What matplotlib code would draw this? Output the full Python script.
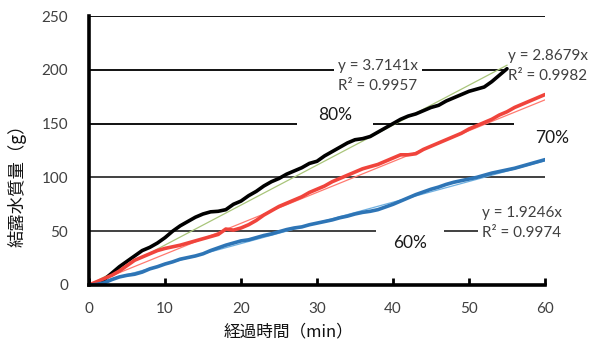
import matplotlib
matplotlib.use("Agg")
import matplotlib.pyplot as plt
import numpy as np

plt.rcParams['font.family'] = ['Lato', 'Noto Sans CJK JP', 'DejaVu Sans']

# elapsed time (min) and condensed water mass (g) for each humidity condition
minutes_80 = list(range(0, 56))
mass_80 = [0, 0, 5, 11, 17, 22, 27, 32, 35, 39, 44, 50, 55, 59, 63, 66, 68, 68.5, 70, 75,
           78, 83, 87, 92, 96, 99, 103, 106, 109, 113, 115, 120, 124, 128, 132, 135, 136,
           138, 142, 146, 150, 154, 157, 159, 162, 165, 167, 171, 174, 177, 180, 182, 184,
           189, 195, 201]

minutes_70 = list(range(0, 61))
mass_70 = [0, 3, 6, 9, 13, 18, 23, 26, 29, 32, 34, 35.5, 37, 39, 41, 43, 45, 47, 52, 51,
           53, 56, 60, 65, 69, 73, 76, 79, 82, 86, 89, 92, 96, 99, 102, 105, 108, 110, 112,
           115, 118, 121, 121, 122, 126, 129, 132, 135, 138, 141, 145, 148, 151, 154, 158,
           161, 165, 168, 171, 174, 177]

minutes_60 = list(range(0, 61))
mass_60 = [0, 0.5, 2, 5, 7.5, 9, 10, 12, 15, 17, 19.5, 21.5, 24, 25.5, 27, 29, 32, 34.5,
           37, 39, 41, 42, 44, 46, 47.5, 49.5, 51.5, 53, 54, 56, 57.5, 59, 60.5, 62.5, 64,
           66, 67.5, 68.5, 70, 72.5, 75, 78, 81, 84, 86.5, 89, 91, 93.5, 95.5, 97, 98.5,
           100, 102, 104, 105.5, 107, 108.5, 110.5, 112.5, 114.5, 116.5]

# linear fits through the origin
slope_80, r2_80 = 3.7141, 0.9957
slope_70, r2_70 = 2.8679, 0.9982
slope_60, r2_60 = 1.9246, 0.9974

humidity_labels = ["80%", "70%", "60%"]
x_ticks = [0, 10, 20, 30, 40, 50, 60]
y_ticks = [0, 50, 100, 150, 200, 250]

W, H = 592, 345
fig = plt.figure(figsize=(W / 100, H / 100), dpi=100)
ax = fig.add_axes([89 / W, 1 - 285 / H, (545 - 89) / W, (285 - 16) / H])
ax.set_xlim(0, 60)
ax.set_ylim(0, 250)

# horizontal gridlines
for v in y_ticks[1:]:
    ax.axhline(v, color='#111111' if v >= 150 else '#404040', lw=1.4, zorder=1)

for s in ['top', 'right']:
    ax.spines[s].set_visible(False)
for s in ['left', 'bottom']:
    ax.spines[s].set_linewidth(2.6)
    ax.spines[s].set_color('black')
    ax.spines[s].set_zorder(6)

ax.set_xticks(x_ticks)
ax.set_yticks(y_ticks)
ax.tick_params(axis='x', direction='in', length=5, width=2, pad=12,
               labelsize=11, labelcolor='#404040')
ax.tick_params(axis='y', length=0, pad=15, labelsize=11, labelcolor='#404040')

# trend lines
t80 = np.array([0, minutes_80[-1]])
t60 = np.array([0, minutes_60[-1]])
ax.plot(t80, slope_80 * t80, color='#a9c57a', lw=0.9, zorder=4)
ax.plot(t60, slope_70 * t60, color='#ff7a70', lw=0.9, zorder=4)
ax.plot(t60, slope_60 * t60, color='#6fb0e0', lw=0.9, zorder=4)

# measured series
ax.plot(minutes_80, mass_80, color='black', lw=2.6, zorder=5, solid_capstyle='round')
ax.plot(minutes_70, mass_70, color='#f0443c', lw=2.6, zorder=5, solid_capstyle='round')
ax.plot(minutes_60, mass_60, color='#2e75b6', lw=2.6, zorder=5, solid_capstyle='round')

def px2data(px, py):
    return (px - 89) / 7.6, (285 - py) / 1.0752

def label(px, py, s, pad, size, ha='center', color='black', z=2.5, ls=1.2):
    x, y = px2data(px, py)
    ax.text(x, y, s, ha=ha, va='center', fontsize=size, color=color,
            linespacing=ls, zorder=z, clip_on=False,
            bbox=dict(boxstyle='square,pad=%s' % pad, fc='white', ec='none'))

# humidity labels first, regression equations on top of them
label(335, 115, humidity_labels[0], 1.2, 12.5, color='#1a1a1a')
label(552, 138, humidity_labels[1], 1.2, 12.5, color='#1a1a1a')
label(410, 243, humidity_labels[2], 1.0, 12.5, color='#1a1a1a')

eq = "y = {:.4f}x\nR² = {:.4f}"
label(338, 76, eq.format(slope_80, r2_80), 0.25, 11, ha='left', color='#404040', z=3, ls=1.5)
label(508, 66, eq.format(slope_70, r2_70), 0.25, 11, ha='left', color='#404040', z=3, ls=1.5)
label(482, 223, eq.format(slope_60, r2_60), 0.25, 11, ha='left', color='#404040', z=3, ls=1.5)

fig.text(17 / W, 1 - 181 / H, "結露水質量（g）", rotation=90, ha='center', va='center',
         fontsize=12.5, family=['Noto Sans CJK JP'], color='#111111')
fig.text(289 / W, 1 - 332 / H, "経過時間（min）", ha='center', va='center',
         fontsize=12, family=['Noto Sans CJK JP'], color='#111111')

fig.savefig("out.png", dpi=100)
